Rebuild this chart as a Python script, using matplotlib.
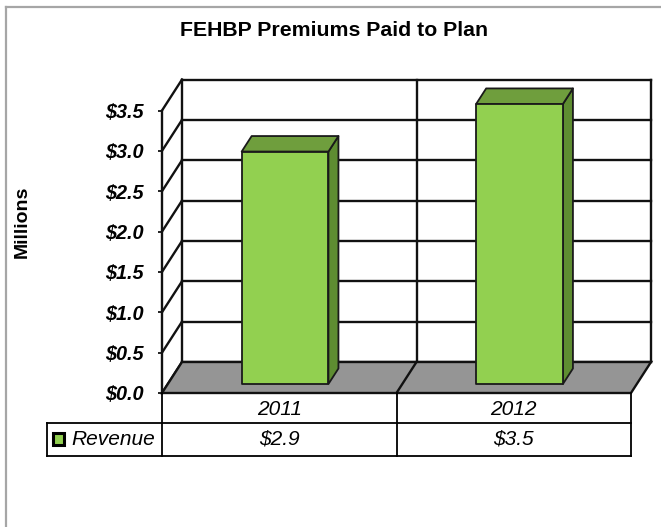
import numpy as np
import matplotlib
matplotlib.use('Agg')
import matplotlib.pyplot as plt
from matplotlib.patches import Polygon, Rectangle
from matplotlib.lines import Line2D

plt.rcParams['font.family'] = ['Liberation Sans', 'DejaVu Sans']

# data
years = ['2011', '2012']
revenue = [2.88, 3.47]
series_name = 'Revenue'
yticks = [0.0, 0.5, 1.0, 1.5, 2.0, 2.5, 3.0, 3.5]

W, H = 661, 527
fig = plt.figure(figsize=(W / 100, H / 100), dpi=100)

left, right, bottom, top = 162, 631, 393, 110.5
ax = fig.add_axes([left / W, 1 - bottom / H, (right - left) / W, (bottom - top) / H])
ax.set_xlim(0, len(years))
ax.set_ylim(0, yticks[-1])
for s in ax.spines.values():
    s.set_visible(False)
ax.set_xticks([])
ax.set_yticks(yticks)
ax.set_yticklabels(['$%.1f' % t for t in yticks], fontsize=14.3,
                   fontweight='bold', fontstyle='italic')
ax.tick_params(axis='y', length=3, width=1.2, direction='out', pad=10.5)

# depth vector of the box, in data units
px_x = (right - left) / len(years)
px_y = (bottom - top) / yticks[-1]
DX, DY = 20 / px_x, 31 / px_y

lk = dict(color='#111111', lw=1.7, solid_capstyle='projecting', clip_on=False)
n = len(years)
ymax = yticks[-1]

# back wall + side wall grid
for t in yticks:
    ax.plot([DX, n + DX], [t + DY, t + DY], **lk, zorder=2)
    ax.plot([0, DX], [t, t + DY], **lk, zorder=2)
ax.plot([0, 0], [0, ymax], **lk, zorder=2)
ax.plot([DX, DX], [DY, ymax + DY], **lk, zorder=2)
for i in range(1, n + 1):
    ax.plot([i + DX, i + DX], [DY, ymax + DY], **lk, zorder=2)

# floor
floor = Polygon([(0, 0), (n, 0), (n + DX, DY), (DX, DY)], closed=True,
                facecolor='#959595', edgecolor='#111111', lw=1.7, clip_on=False, zorder=3)
ax.add_patch(floor)
for i in range(1, n):
    ax.plot([i, i + DX], [0, DY], **lk, zorder=3)

# bars
bw = 0.37
f0, f1 = 0.29, 0.79
ek = dict(edgecolor='#1a1a1a', lw=1.3, clip_on=False, zorder=5, joinstyle='round')
for i, v in enumerate(revenue):
    x0 = i + 0.5 - bw / 2
    x1 = x0 + bw
    ax0, ay0 = f0 * DX, f0 * DY
    ax1, ay1 = f1 * DX, f1 * DY
    side = Polygon([(x1 + ax0, ay0), (x1 + ax1, ay1), (x1 + ax1, v + ay1), (x1 + ax0, v + ay0)],
                   facecolor='#5e8d31', **ek)
    topf = Polygon([(x0 + ax0, v + ay0), (x1 + ax0, v + ay0), (x1 + ax1, v + ay1), (x0 + ax1, v + ay1)],
                   facecolor='#6f9e3d', **ek)
    front = Rectangle((x0 + ax0, ay0), bw, v, facecolor='#92d050', **ek)
    ax.add_patch(side)
    ax.add_patch(topf)
    ax.add_patch(front)

# data table under the chart
r1, r2 = 30 / px_y, 33 / px_y
xl = (47 - left) / px_x
tk = dict(color='black', lw=1.3, clip_on=False, zorder=4)
ax.plot([xl, n], [-r1, -r1], **tk)
ax.plot([xl, n], [-r1 - r2, -r1 - r2], **tk)
ax.plot([xl, xl], [-r1, -r1 - r2], **tk)
for i in range(n + 1):
    ax.plot([i, i], [0, -r1 - r2], **tk)
for i, (yr, v) in enumerate(zip(years, revenue)):
    ax.text(i + 0.5, -r1 / 2 - 0.02, yr, ha='center', va='center',
            fontsize=15, fontstyle='italic')
    ax.text(i + 0.5, -r1 - r2 / 2, '$%.1f' % v, ha='center', va='center',
            fontsize=15, fontstyle='italic')
key = Rectangle(((53 - left) / px_x, -r1 - 22 / px_y), 11 / px_x, 12 / px_y,
                facecolor='#92d050', edgecolor='black', lw=2.2, clip_on=False, zorder=5)
ax.add_patch(key)
ax.text((71 - left) / px_x, -r1 - r2 / 2, series_name, ha='left', va='center',
        fontsize=15, fontstyle='italic')

# titles
fig.text(334 / W, 1 - 31 / H, 'FEHBP Premiums Paid to Plan', ha='center', va='center',
         fontsize=15.3, fontweight='bold')
fig.text(22.5 / W, 1 - 221.5 / H, 'Millions', ha='center', va='center', rotation=90,
         fontsize=14, fontweight='bold')

# chart area border
fig.add_artist(Line2D([6 / W, 6 / W], [0, 1 - 7 / H], color='#a6a6a6', lw=1.6))
fig.add_artist(Line2D([6 / W, 1], [1 - 7 / H, 1 - 7 / H], color='#a6a6a6', lw=1.6))

fig.savefig('out.png', dpi=100)
